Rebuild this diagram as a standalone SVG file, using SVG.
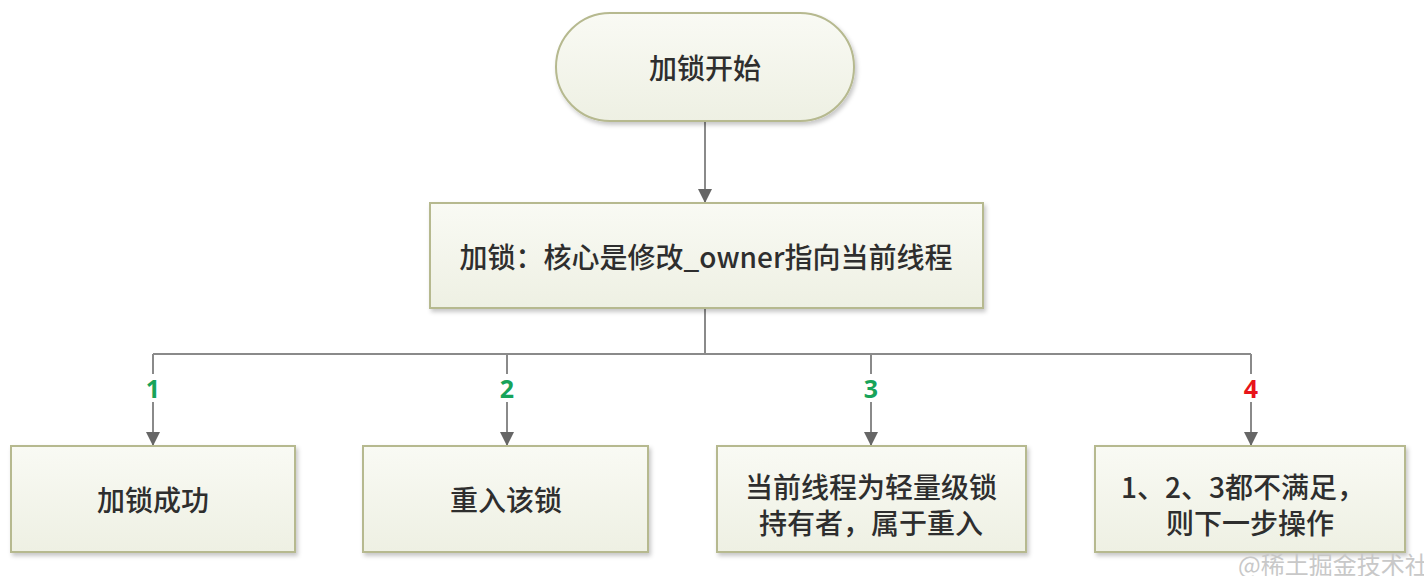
<svg xmlns="http://www.w3.org/2000/svg" width="1424" height="576" viewBox="0 0 1424 576">
  <defs>
    <linearGradient id="nodeFill" x1="0" y1="0" x2="0" y2="1">
      <stop offset="0" stop-color="#f9faf4"/>
      <stop offset="1" stop-color="#eef0e3"/>
    </linearGradient>
    <filter id="shadow" x="-10%" y="-10%" width="125%" height="130%">
      <feDropShadow dx="2" dy="3" stdDeviation="2" flood-color="#000" flood-opacity="0.22"/>
    </filter>
    <marker id="arrow" viewBox="0 0 14 14" refX="13" refY="7" markerWidth="14" markerHeight="14" markerUnits="userSpaceOnUse" orient="auto">
      <path d="M0,0 L14,7 L0,14 Z" fill="#666"/>
    </marker>
  </defs>
  <style>
    .node { fill: url(#nodeFill); stroke: #b6b98f; stroke-width: 2; filter: url(#shadow); }
    .label { font-family: "Noto Sans CJK SC", "Noto Sans", sans-serif; font-size: 28px; font-weight: 500; fill: #2e2e2e; text-anchor: middle; dominant-baseline: central; }
    .conn { fill: none; stroke: #8a8a8a; stroke-width: 2; }
    .num { font-family: "Noto Sans", "Liberation Sans", sans-serif; font-size: 25px; font-weight: bold; text-anchor: middle; dominant-baseline: central; }
    .green { fill: #17a35a; }
    .red { fill: #e8141a; }
    .wm { font-family: "Noto Sans CJK SC", sans-serif; font-size: 24px; fill: #c8c8c8; }
  </style>

  <g id="connectors">
    <path class="conn" d="M705,122 V202" marker-end="url(#arrow)"/>
    <path class="conn" d="M705,308 V354 M153,354 H1251"/>
    <path class="conn" d="M153,354 V374 M153,402 V445" marker-end="url(#arrow)"/>
    <path class="conn" d="M507,354 V374 M507,402 V445" marker-end="url(#arrow)"/>
    <path class="conn" d="M871,354 V374 M871,402 V445" marker-end="url(#arrow)"/>
    <path class="conn" d="M1251,354 V374 M1251,402 V445" marker-end="url(#arrow)"/>
    <text class="num green" x="153" y="388">1</text>
    <text class="num green" x="507" y="388">2</text>
    <text class="num green" x="871" y="388">3</text>
    <text class="num red" x="1251" y="388">4</text>
  </g>

  <g id="start">
    <rect class="node" x="556" y="13" width="298" height="108" rx="54" ry="54"/>
    <text class="label" x="705" y="67">加锁开始</text>
  </g>

  <g id="lock">
    <rect class="node" x="430" y="203" width="553" height="105"/>
    <text class="label" x="706" y="256">加锁：核心是修改_owner指向当前线程</text>
  </g>

  <g id="success">
    <rect class="node" x="11" y="446" width="284" height="106"/>
    <text class="label" x="153" y="499">加锁成功</text>
  </g>

  <g id="reenter">
    <rect class="node" x="363" y="446" width="285" height="106"/>
    <text class="label" x="506" y="499">重入该锁</text>
  </g>

  <g id="lightweight">
    <rect class="node" x="717" y="446" width="309" height="106"/>
    <text class="label" x="871" y="486">当前线程为轻量级锁</text>
    <text class="label" x="871" y="522">持有者，属于重入</text>
  </g>

  <g id="other">
    <rect class="node" x="1095" y="446" width="310" height="106"/>
    <text class="label" x="1243" y="486">1、2、3都不满足，</text>
    <text class="label" x="1250" y="522">则下一步操作</text>
  </g>

  <text class="wm" x="1238" y="574">@稀土掘金技术社区</text>
</svg>
